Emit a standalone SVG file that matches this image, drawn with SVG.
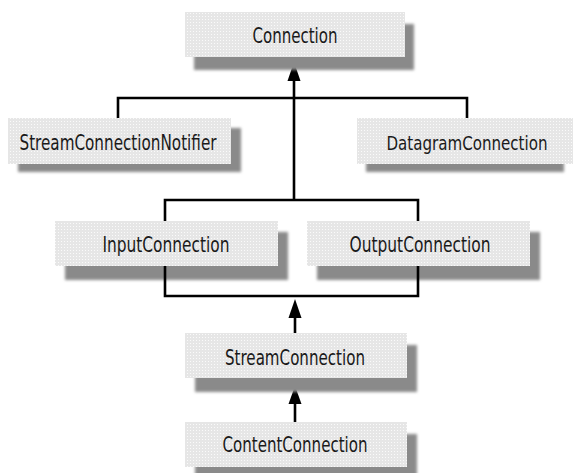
<svg xmlns="http://www.w3.org/2000/svg" width="578" height="473" viewBox="0 0 578 473">
<defs>
<pattern id="dots" width="3" height="3" patternUnits="userSpaceOnUse">
<rect width="3" height="3" fill="#e6e6e6"/>
<rect x="1" y="1" width="1" height="1" fill="#fafafa"/>
</pattern>
<filter id="blur" x="-10%" y="-30%" width="120%" height="160%">
<feGaussianBlur stdDeviation="1.6"/>
</filter>
</defs>
<style>
.shadow{fill:#8a8a8a;filter:url(#blur)}
.box{fill:url(#dots)}
.lbl{font-family:"DejaVu Sans Condensed","Liberation Sans Narrow","Liberation Sans",sans-serif;font-size:21px;fill:#1a1a1a;text-anchor:middle}
.sm{font-size:19.5px}
.ln{fill:none;stroke:#000;stroke-width:2.6}
.head{fill:#000}
</style>
<rect width="578" height="473" fill="#fff"/>

<g id="connectors">
<path class="ln" d="M118 119 V98 H467 V119"/>
<path class="ln" d="M294 200 V80"/>
<path class="head" d="M294 62 L300.5 81 L287.5 81 Z"/>
<path class="ln" d="M165 222 V200 H418 V222"/>
</g>

<g id="node-connection">
<rect class="shadow" x="194" y="24" width="220" height="46"/>
<rect class="box" x="185" y="12" width="220" height="45"/>
<text class="lbl" x="295" y="43" textLength="85" lengthAdjust="spacingAndGlyphs">Connection</text>
</g>

<g id="node-streamconnectionnotifier">
<rect class="shadow" x="18" y="128" width="223" height="44"/>
<rect class="box" x="8" y="118" width="223" height="46"/>
<text class="lbl" x="118" y="150" textLength="197" lengthAdjust="spacingAndGlyphs">StreamConnectionNotifier</text>
</g>

<g id="node-datagramconnection">
<rect class="shadow" x="366" y="128" width="198" height="44"/>
<rect class="box" x="357" y="118" width="216" height="46"/>
<text class="lbl sm" x="467" y="150" textLength="161" lengthAdjust="spacingAndGlyphs">DatagramConnection</text>
</g>

<g id="node-inputconnection">
<rect class="shadow" x="65" y="232" width="223" height="48"/>
<rect class="box" x="55" y="221" width="223" height="45"/>
<text class="lbl" x="166" y="252" textLength="127" lengthAdjust="spacingAndGlyphs">InputConnection</text>
</g>

<g id="node-outputconnection">
<rect class="shadow" x="317" y="232" width="223" height="48"/>
<rect class="box" x="307" y="221" width="223" height="45"/>
<text class="lbl" x="420" y="252" textLength="141" lengthAdjust="spacingAndGlyphs">OutputConnection</text>
</g>

<g id="connectors-lower">
<path class="ln" d="M165 266 V296 H418 V266"/>
<path class="ln" d="M295 333 V315"/>
<path class="head" d="M295 299 L301.5 318 L288.5 318 Z"/>
<path class="ln" d="M295 422 V402"/>
<path class="head" d="M295 386 L301.5 404 L288.5 404 Z"/>
</g>

<g id="node-streamconnection">
<rect class="shadow" x="195" y="345" width="222" height="47"/>
<rect class="box" x="185" y="333" width="222" height="45"/>
<text class="lbl" x="295" y="365" textLength="140" lengthAdjust="spacingAndGlyphs">StreamConnection</text>
</g>

<g id="node-contentconnection">
<rect class="shadow" x="195" y="434" width="222" height="47"/>
<rect class="box" x="185" y="422" width="222" height="45"/>
<text class="lbl" x="295" y="452" textLength="145" lengthAdjust="spacingAndGlyphs">ContentConnection</text>
</g>
</svg>
